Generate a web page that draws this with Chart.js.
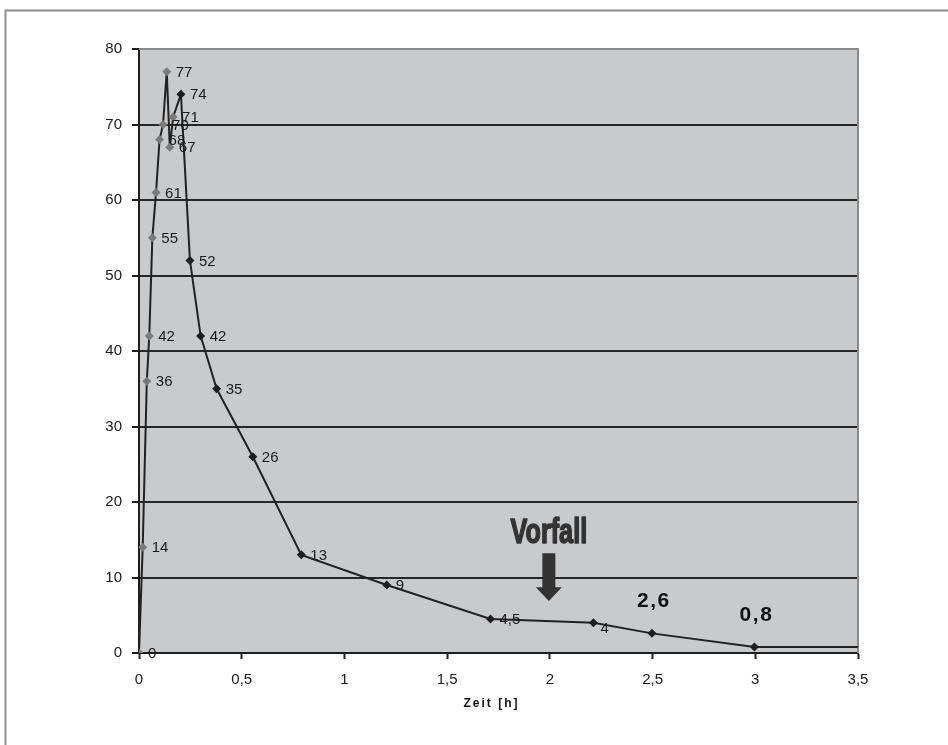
<!DOCTYPE html>
<html>
<head>
<meta charset="utf-8">
<script src="https://cdn.jsdelivr.net/npm/chart.js@4.4.1/dist/chart.umd.min.js"></script>
<style>
  html, body { margin: 0; padding: 0; background: #ffffff; }
  canvas { display: block; }
</style>
</head>
<body>
<canvas id="chart" width="948" height="745"></canvas>
<script>
// Concentration curve: rise phase (grey markers) and decay phase (black markers)
const riseTimes  = [0, 0.018, 0.038, 0.05, 0.065, 0.083, 0.1, 0.117, 0.135, 0.15, 0.166];
const riseValues = [0, 14, 36, 42, 55, 61, 68, 70, 77, 67, 71];
const fallTimes  = [0.204, 0.248, 0.3, 0.378, 0.554, 0.79, 1.206, 1.711, 2.212, 2.497, 2.996];
const fallValues = [74, 52, 42, 35, 26, 13, 9, 4.5, 4, 2.6, 0.8];
const tailTime = 3.5;              // last level carried on to the end of the axis
const highlightedValues = [2.6, 0.8];
const eventTime = 2;
const eventLabel = 'Vorfall';
const xTicks = [0, 0.5, 1, 1.5, 2, 2.5, 3, 3.5];
const yTicks = [0, 10, 20, 30, 40, 50, 60, 70, 80];
const xTitle = 'Zeit [h]';

const FONT = '"Liberation Sans", Arial, Helvetica, sans-serif';
const fmt = v => String(v).replace('.', ',');

const times = riseTimes.concat(fallTimes, [tailTime]);
const values = riseValues.concat(fallValues, [fallValues[fallValues.length - 1]]);
const points = times.map((t, i) => ({ x: t, y: values[i] }));
const lastIndex = points.length - 1;

// Frame round the figure and the plot area background
const backdrop = {
  id: 'backdrop',
  beforeDraw(chart) {
    const { ctx, chartArea: a } = chart;
    ctx.save();
    ctx.fillStyle = '#ffffff';
    ctx.fillRect(0, 0, chart.width, chart.height);
    ctx.strokeStyle = '#8e8e8e';
    ctx.lineWidth = 2;
    ctx.beginPath();
    ctx.moveTo(5.5, chart.height);
    ctx.lineTo(5.5, 10.5);
    ctx.lineTo(chart.width, 10.5);
    ctx.stroke();
    ctx.fillStyle = '#c9cacc';
    ctx.fillRect(a.left, a.top, a.right - a.left, a.bottom - a.top);
    ctx.restore();
  },
  beforeDatasetsDraw(chart) {
    const { ctx, chartArea: a } = chart;
    ctx.save();
    ctx.strokeStyle = '#8a8a8a';
    ctx.lineWidth = 2;
    ctx.beginPath();
    ctx.moveTo(a.left, a.top);
    ctx.lineTo(a.right, a.top);
    ctx.lineTo(a.right, a.bottom);
    ctx.stroke();
    ctx.restore();
  }
};

// Value labels next to each marker, the event arrow and the axis title
const annotations = {
  id: 'annotations',
  afterDatasetsDraw(chart) {
    const { ctx, chartArea: a } = chart;
    const xs = chart.scales.x, ys = chart.scales.y;
    const meta = chart.getDatasetMeta(0);
    ctx.save();
    meta.data.forEach((el, i) => {
      if (i === lastIndex) return;
      const v = values[i];
      const txt = fmt(v);
      if (i >= riseValues.length && highlightedValues.includes(v)) {
        ctx.font = 'bold 21px ' + FONT;
        ctx.letterSpacing = '1.5px';
        ctx.fillStyle = '#111';
        ctx.textAlign = 'center';
        ctx.textBaseline = 'middle';
        ctx.fillText(txt, el.x + 2, el.y - 32);
        ctx.letterSpacing = '0px';
        return;
      }
      ctx.font = '15px ' + FONT;
      ctx.fillStyle = '#1a1a1a';
      ctx.textAlign = 'left';
      ctx.textBaseline = 'middle';
      const below = (i >= riseValues.length && v === 4);
      ctx.fillText(txt, el.x + (below ? 7 : 9), el.y + (below ? 6 : 1));
    });

    // event marker: downward arrow with caption
    const cx = xs.getPixelForValue(eventTime) - 1;
    const top = ys.getPixelForValue(13.2);
    const neck = ys.getPixelForValue(8.7);
    const tip = ys.getPixelForValue(6.9);
    ctx.fillStyle = '#333333';
    ctx.beginPath();
    ctx.moveTo(cx - 6.5, top);
    ctx.lineTo(cx + 6.5, top);
    ctx.lineTo(cx + 6.5, neck);
    ctx.lineTo(cx + 13, neck);
    ctx.lineTo(cx, tip);
    ctx.lineTo(cx - 13, neck);
    ctx.lineTo(cx - 6.5, neck);
    ctx.closePath();
    ctx.fill();

    ctx.save();
    ctx.translate(cx, ys.getPixelForValue(14.6));
    ctx.scale(0.72, 1);
    ctx.font = 'bold 35px ' + FONT;
    ctx.textAlign = 'center';
    ctx.textBaseline = 'alphabetic';
    ctx.fillStyle = '#333333';
    ctx.strokeStyle = '#333333';
    ctx.lineWidth = 1.6;
    ctx.lineJoin = 'round';
    ctx.strokeText(eventLabel, 0, 0);
    ctx.fillText(eventLabel, 0, 0);
    ctx.restore();

    // x axis title
    ctx.font = 'bold 12px ' + FONT;
    ctx.letterSpacing = '2px';
    ctx.fillStyle = '#111';
    ctx.textAlign = 'center';
    ctx.textBaseline = 'middle';
    ctx.fillText(xTitle, (a.left + a.right) / 2 - 7, 704);
    ctx.restore();
  }
};

new Chart(document.getElementById('chart'), {
  type: 'line',
  data: {
    datasets: [{
      data: points,
      borderColor: '#222222',
      borderWidth: 2,
      tension: 0,
      pointStyle: 'rectRot',
      pointRadius: ctx => ctx.dataIndex === lastIndex ? 0 : 4.5,
      pointBorderWidth: 0,
      pointBackgroundColor: ctx => ctx.dataIndex < riseValues.length ? '#7a7a7a' : '#1e1e1e',
      pointBorderColor: 'rgba(0,0,0,0)'
    }]
  },
  options: {
    responsive: false,
    animation: false,
    devicePixelRatio: 1,
    layout: { padding: { left: 10, right: 90, top: 49, bottom: 0 } },
    plugins: { legend: { display: false }, tooltip: { enabled: false } },
    scales: {
      x: {
        type: 'linear',
        min: 0,
        max: 3.5,
        afterFit: s => { s.height = 92; },
        afterBuildTicks: s => { s.ticks = xTicks.map(v => ({ value: v })); },
        border: { color: '#1e1e1e', width: 2 },
        grid: { drawOnChartArea: false, tickLength: 6, tickColor: '#1e1e1e', tickWidth: 2 },
        ticks: {
          padding: 12,
          color: '#1a1a1a',
          font: { family: FONT, size: 15 },
          maxRotation: 0,
          callback: v => fmt(v)
        }
      },
      y: {
        type: 'linear',
        min: 0,
        max: 80,
        afterFit: s => { s.width = 129; },
        afterBuildTicks: s => { s.ticks = yTicks.map(v => ({ value: v })); },
        border: { color: '#1e1e1e', width: 2 },
        grid: {
          color: c => (c.tick && (c.tick.value === 80 || c.tick.value === 0)) ? 'rgba(0,0,0,0)' : '#262626',
          lineWidth: 2,
          tickLength: 7,
          tickColor: '#1e1e1e',
          tickWidth: 2
        },
        ticks: {
          padding: 10,
          color: '#1a1a1a',
          font: { family: FONT, size: 15 },
          callback: v => fmt(v)
        }
      }
    }
  },
  plugins: [backdrop, annotations]
});
</script>
</body>
</html>
